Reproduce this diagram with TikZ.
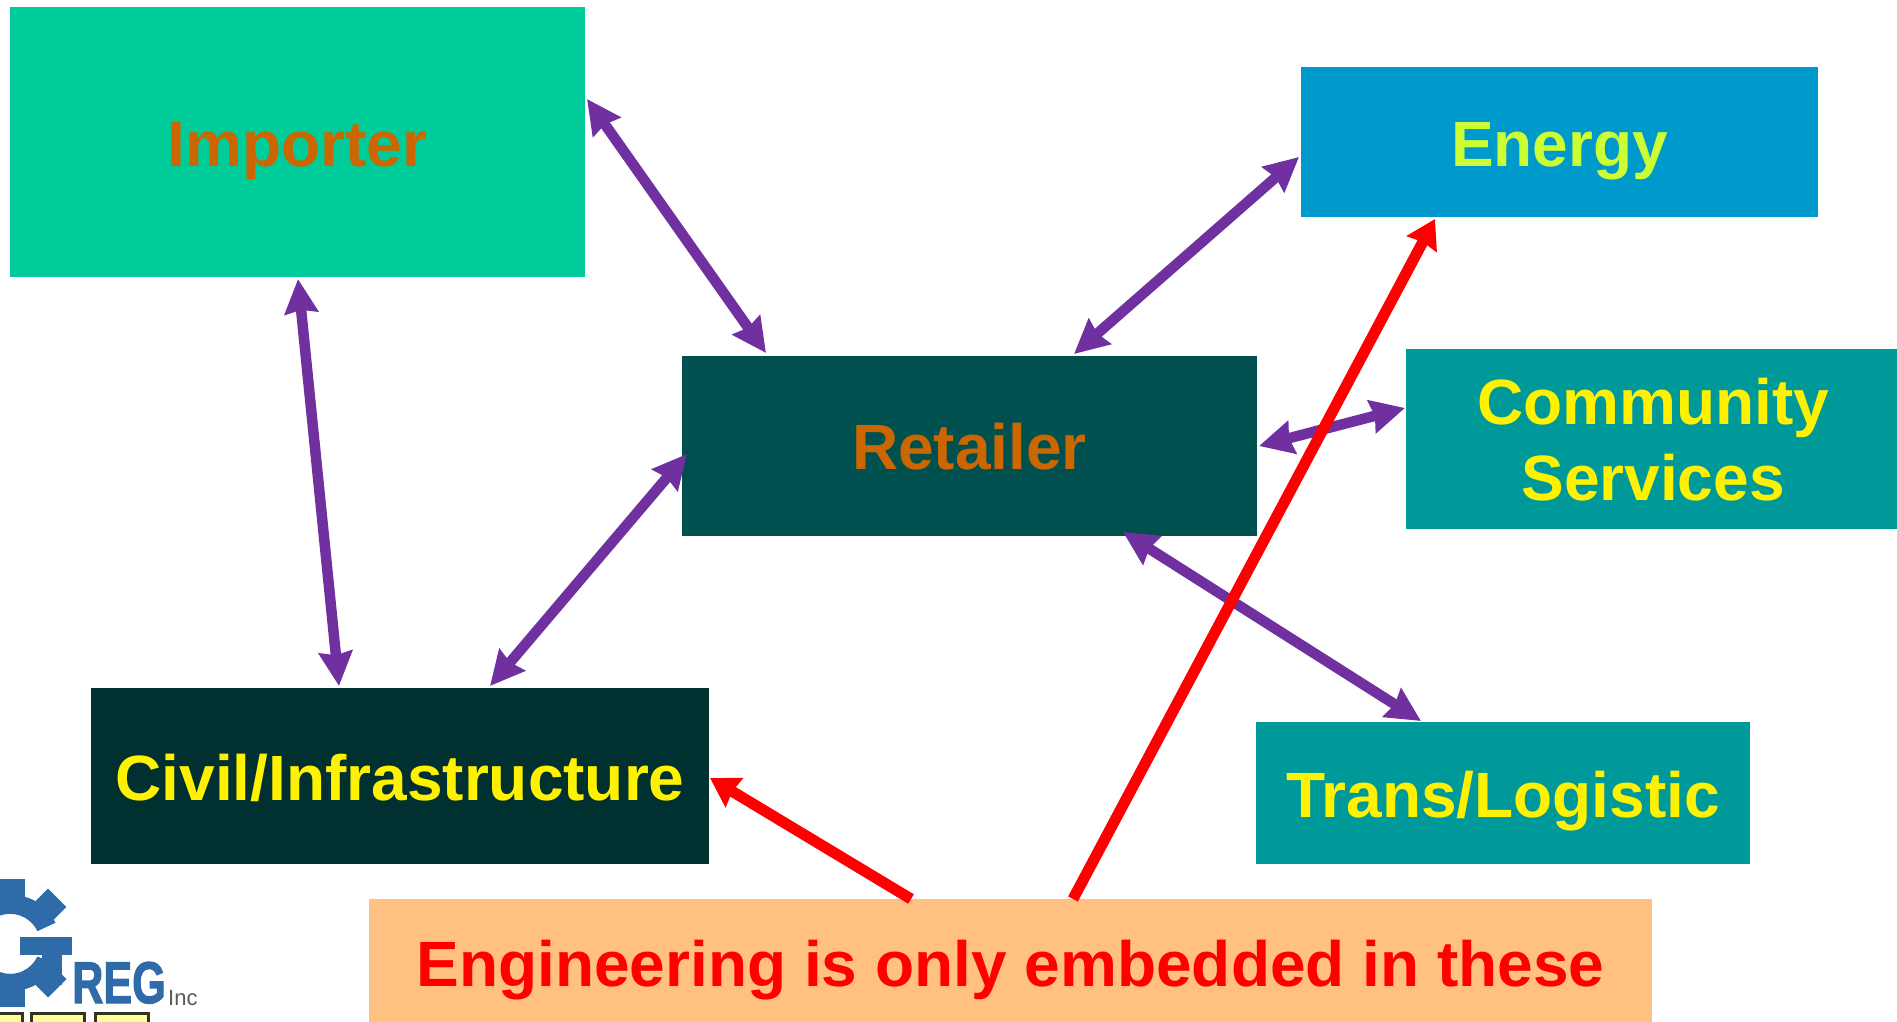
\documentclass[tikz,border=0pt]{standalone}
\usepackage{fontspec}
\setmainfont{Liberation Sans}
\newfontfamily\logofont[FakeBold=2.2]{Liberation Sans Bold}
\usetikzlibrary{arrows.meta}
\definecolor{impfill}{HTML}{00CC99}
\definecolor{enfill}{HTML}{0099CC}
\definecolor{retfill}{HTML}{005050}
\definecolor{tealfill}{HTML}{009999}
\definecolor{civfill}{HTML}{003030}
\definecolor{engfill}{HTML}{FFC082}
\definecolor{orangetext}{HTML}{CC6600}
\definecolor{limetext}{HTML}{CCFF33}
\definecolor{linkpurple}{HTML}{7030A0}
\definecolor{logoblue}{HTML}{2F6BA8}
\definecolor{btnyellow}{HTML}{FFFF99}
\begin{document}
\begin{tikzpicture}[x=1pt,y=-1pt,
  box/.style={anchor=north west,inner sep=0pt,outer sep=0pt,align=center,
    font=\fontsize{64}{76}\selectfont\bfseries},
  drop/.style={text height=#1,text depth=0pt},
  link/.style={draw=linkpurple,line width=10.5pt,{Stealth[length=34pt,width=33pt,inset=3pt]}-{Stealth[length=34pt,width=33pt,inset=3pt]}},
  redlink/.style={draw=red,line width=11pt,-{Stealth[length=28pt,width=33pt,inset=2pt]}},
  btn/.style={anchor=north west,draw=black!80!btnyellow,line width=2.5pt,fill=btnyellow,inner sep=0pt,minimum width=53pt,minimum height=24pt}]
\useasboundingbox (0,0) rectangle (1897,1022);
\clip (0,0) rectangle (1897,1022);
\node[box,drop=48.4pt,fill=impfill,text=orangetext,minimum width=575pt,minimum height=270pt] (imp) at (10,7) {Importer};
\node[box,drop=48.4pt,fill=enfill,text=limetext,minimum width=517pt,minimum height=150pt] (en) at (1301,67) {Energy};
\node[box,drop=46.5pt,fill=retfill,text=orangetext,minimum width=575pt,minimum height=180pt] (ret) at (682,356) {Retailer};
\node[box,fill=tealfill,text=yellow,minimum width=494pt,minimum height=180pt] (com) at (1406,349) {\rule{0pt}{48pt}Community\\Services};
\node[box,drop=49pt,fill=civfill,text=yellow,minimum width=618pt,minimum height=176pt] (civ) at (91,688) {Civil/Infrastructure};
\node[box,drop=49pt,fill=tealfill,text=yellow,minimum width=494pt,minimum height=142pt] (tra) at (1256,722) {Trans/Logistic};
\node[box,drop=51.2pt,fill=engfill,text=red,minimum width=1283pt,minimum height=123pt] (eng) at (369,899) {Engineering is only embedded in these};
% purple links
\draw[link] ([shift={(2,92)}]imp.north east) -- ([shift={(84,-3)}]ret.north west);
\draw[link] ([shift={(288,2)}]imp.south west) -- ([shift={(248,-2)}]civ.north west);
\draw[link] ([shift={(399,-2)}]civ.north west) -- ([shift={(5,98)}]ret.north west);
\draw[link] ([shift={(392,-2)}]ret.north west) -- ([shift={(-2,90)}]en.north west);
\draw[link] ([shift={(2,-90)}]ret.south east) -- ([shift={(-1,59)}]com.north west);
\draw[link] ([shift={(441,-4)}]ret.south west) -- ([shift={(165,-1)}]tra.north west);
% red links
\draw[redlink] ([shift={(542,0)}]eng.north west) -- ([shift={(1,-86)}]civ.south east);
\draw[redlink] ([shift={(704,0)}]eng.north west) -- ([shift={(134,2)}]en.south west);
% logo
\coordinate (gc) at (12,943);
\fill[logoblue] (gc) ++(25:48) arc[start angle=25,end angle=335,radius=48] -- ++(155:20) arc[start angle=335,end angle=25,radius=30] -- cycle;
\foreach \a in {90,135,180,225,270,45,-45} {
  \fill[logoblue,rotate around={\a:(gc)}] ([shift={(40,-13)}]gc) rectangle ([shift={(64,13)}]gc);
}
\fill[logoblue] (20,937) rectangle (72,955);
\fill[logoblue] (42,955) rectangle (62,985);
\node[anchor=base west,inner sep=0pt,text=logoblue,font=\logofont\fontsize{60}{60}\selectfont] (reg) at (72,1003) {\scalebox{0.72}[0.98]{REG}};
\node[anchor=base west,inner sep=0pt,text=black!65,font=\fontsize{22}{22}\selectfont] (inc) at (168,1005) {Inc};
\node[btn] (b1) at (-32,1012) {};
\node[btn] (b2) at (30,1012) {};
\node[btn] (b3) at (94,1012) {};
\end{tikzpicture}
\end{document}
